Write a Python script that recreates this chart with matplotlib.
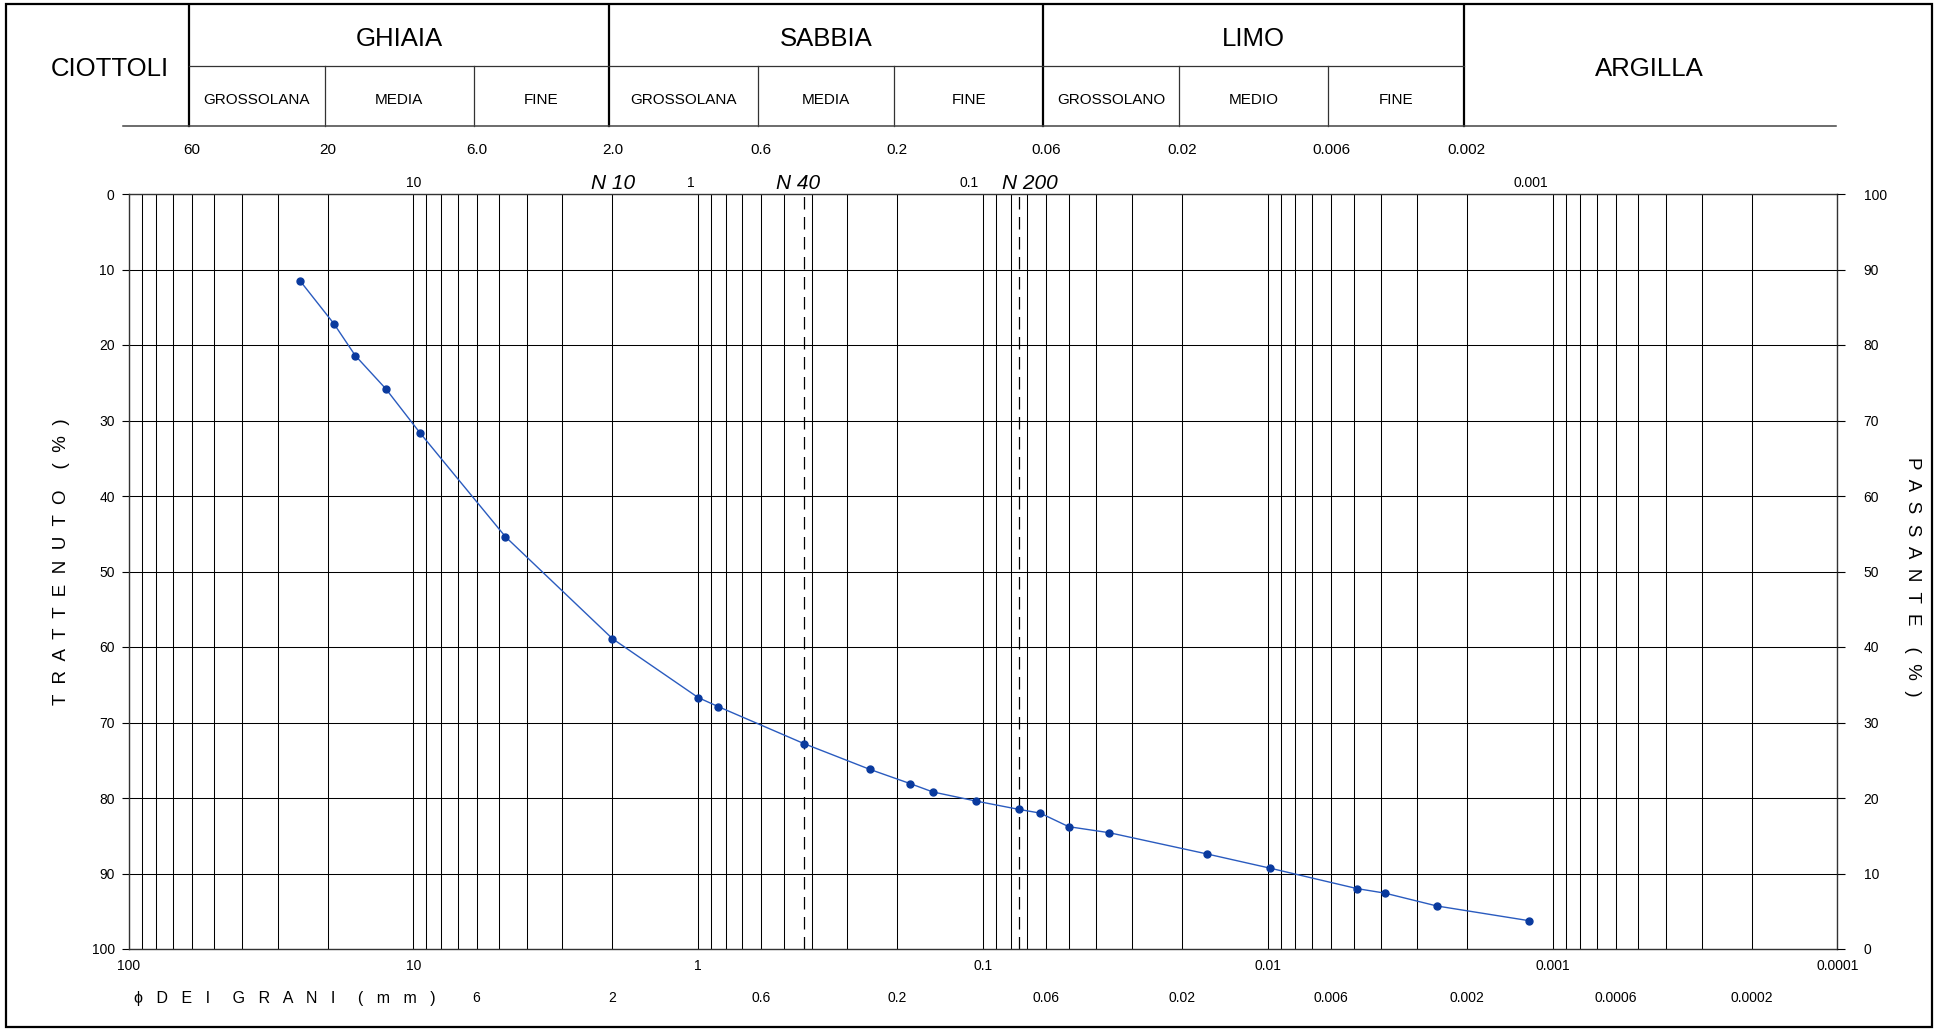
import matplotlib
matplotlib.use('Agg')
import matplotlib.pyplot as plt
import matplotlib.transforms as mtransforms
from matplotlib.patches import Rectangle
from matplotlib.ticker import LogLocator, NullFormatter, FixedLocator
import numpy as np

# ---------------- data ----------------
diam_mm = [25, 19, 16, 12.5, 9.5, 4.75, 2.0, 1.0, 0.85, 0.425, 0.25, 0.18, 0.15,
           0.106, 0.075, 0.063, 0.05, 0.036, 0.0164, 0.0098, 0.00486, 0.00388,
           0.00255, 0.00121]
trattenuto = [11.5, 17.2, 21.4, 25.8, 31.6, 45.4, 58.9, 66.7, 67.9, 72.8, 76.2,
              78.1, 79.2, 80.4, 81.5, 82.0, 83.8, 84.6, 87.4, 89.3, 92.0, 92.6,
              94.3, 96.25]

main_classes = ['GHIAIA', 'SABBIA', 'LIMO', 'ARGILLA']
main_bounds = [60, 2.0, 0.06, 0.002]
sub_classes = ['GROSSOLANA', 'MEDIA', 'FINE', 'GROSSOLANA', 'MEDIA', 'FINE',
               'GROSSOLANO', 'MEDIO', 'FINE']
sub_bounds = [60, 20, 6.0, 2.0, 0.6, 0.2, 0.06, 0.02, 0.006, 0.002]
limit_labels = ['60', '20', '6.0', '2.0', '0.6', '0.2', '0.06', '0.02', '0.006', '0.002']

x_major = [100, 10, 1, 0.1, 0.01, 0.001, 0.0001]
x_major_labels = ['100', '10', '1', '0.1', '0.01', '0.001', '0.0001']
x_second = [6, 2, 0.6, 0.2, 0.06, 0.02, 0.006, 0.002, 0.0006, 0.0002]
x_second_labels = ['6', '2', '0.6', '0.2', '0.06', '0.02', '0.006', '0.002', '0.0006', '0.0002']
top_row = [10, 1, 0.1, 0.001]
top_row_labels = ['10', '1', '0.1', '0.001']
sieves = ['N 10', 'N 40', 'N 200']
sieve_mm = [2.0, 0.425, 0.075]
y_ticks = list(range(0, 101, 10))

# ---------------- figure ----------------
plt.rcParams['font.family'] = ['Liberation Sans', 'DejaVu Sans']
W, H = 1937, 1030
fig = plt.figure(figsize=(W / 100, H / 100), dpi=100)


def fx(px):
    return px / W


def fy(py):
    return 1 - py / H


AX_L, AX_R, AX_T, AX_B = 128.6, 1837.4, 194, 949
ax = fig.add_axes([fx(AX_L), fy(AX_B), (AX_R - AX_L) / W, (AX_B - AX_T) / H])
ax.set_xscale('log')
ax.set_xlim(100, 1e-4)
ax.set_ylim(100, 0)

ax.xaxis.set_major_locator(FixedLocator(x_major))
ax.set_xticklabels(x_major_labels)
ax.xaxis.set_minor_locator(LogLocator(base=10, subs=np.arange(2, 10), numticks=20))
ax.xaxis.set_minor_formatter(NullFormatter())
ax.tick_params(axis='x', which='both', length=0, pad=7, labelsize=10)
ax.set_yticks(y_ticks)
ax.tick_params(axis='y', which='major', direction='out', length=5, width=0.8,
               pad=5, labelsize=10)
ax.grid(True, which='both', axis='x', color='black', lw=0.75)
ax.grid(True, which='major', axis='y', color='black', lw=0.75)
for sp in ax.spines.values():
    sp.set_color('#333333')
    sp.set_linewidth(1.0)

# sieve dashed lines
for s in sieve_mm[1:]:
    ax.axvline(s, color='black', lw=0.9, ls=(0, (10, 6)))

ax2 = ax.twinx()
ax2.set_ylim(0, 100)
ax2.set_yticks(y_ticks)
ax2.tick_params(axis='y', direction='out', length=5.8, width=0.8, pad=13, labelsize=10)
for sp in ax2.spines.values():
    sp.set_visible(False)

# curve
ax.plot(diam_mm, trattenuto, '-', color='#2a5bbf', lw=1.0, marker='o', ms=5,
        mfc='#0a3a9e', mec='#0a3a9e', zorder=5)

# labels above plot (blended transform)
blend = mtransforms.blended_transform_factory(ax.transData, ax.transAxes)
y_row1 = (AX_B - 150) / (AX_B - AX_T)
y_row2 = (AX_B - 183) / (AX_B - AX_T)
for v, t in zip(sub_bounds, limit_labels):
    ax.text(v, y_row1, t, transform=blend, ha='center', va='center', fontsize=11,
            clip_on=False)
for v, t in zip(top_row, top_row_labels):
    if t == '10':
        ax.text(v, y_row2, t, transform=blend, ha='center', va='center',
                fontsize=10, clip_on=False)
    else:
        tr = mtransforms.offset_copy(blend, fig=fig, x=-4, y=0, units='dots')
        ax.text(v, y_row2, t, transform=tr, ha='right', va='center',
                fontsize=10, clip_on=False)
sieve_offsets = [1, -6, 11]
for v, t, o in zip(sieve_mm, sieves, sieve_offsets):
    tr = mtransforms.offset_copy(blend, fig=fig, x=o, y=0, units='dots')
    ax.text(v, y_row2, t, transform=tr, ha='center', va='center', fontsize=15,
            style='italic', clip_on=False)

# second bottom row
y_bot2 = (AX_B - 998) / (AX_B - AX_T)
for v, t in zip(x_second, x_second_labels):
    ax.text(v, y_bot2, t, transform=blend, ha='center', va='center', fontsize=10,
            clip_on=False)

# ---------------- header ----------------
HL, HR, HT, HB = AX_L - 3, AX_R - 3, 5, 126
axh = fig.add_axes([fx(HL), fy(HB), (HR - HL) / W, (HB - HT) / H])
axh.set_xscale('log')
axh.set_xlim(100, 1e-4)
axh.set_ylim(0, 1)
axh.axis('off')
mid = (HB - 66) / (HB - HT)
for b in main_bounds:
    axh.plot([b, b], [0, 1], color='black', lw=1.6, clip_on=False)
for b in sub_bounds:
    if b not in main_bounds:
        axh.plot([b, b], [0, mid], color='#333333', lw=0.9, clip_on=False)
axh.plot([main_bounds[0], main_bounds[-1]], [mid, mid], color='#333333', lw=0.9,
         clip_on=False)
axh.plot([-2.6 / (HR - HL), 1 + 1.5 / (HR - HL)], [0, 0], transform=axh.transAxes,
         color='#444444', lw=1.1, clip_on=False)

right_end = 1e-4
main_edges = main_bounds + [right_end]
for i, name in enumerate(main_classes):
    a, b = main_edges[i], main_edges[i + 1]
    xc = np.sqrt(a * b)
    yc = (HB - 38.5) / (HB - HT) if name != 'ARGILLA' else (HB - 69) / (HB - HT)
    axh.text(xc, yc, name, ha='center', va='center', fontsize=18.5)
for i, name in enumerate(sub_classes):
    a, b = sub_bounds[i], sub_bounds[i + 1]
    axh.text(np.sqrt(a * b), (HB - 99.5) / (HB - HT), name, ha='center',
             va='center', fontsize=11)

fig.text(fx(110), fy(69.5), 'CIOTTOLI', ha='center', va='center', fontsize=18.5)

# axis titles
fig.text(fx(62), fy(562), 'T  R  A  T  T  E  N  U  T  O    (  %  )', rotation=90,
         ha='center', va='center', fontsize=13.5)
fig.text(fx(1913), fy(577), 'P  A  S  S  A  N  T  E    (  %  )', rotation=-90,
         ha='center', va='center', fontsize=13.5)
fig.text(fx(134), fy(998), '\u03d5   D   E   I     G   R   A   N   I     (   m   m   )',
         ha='left', va='center', fontsize=11.5)

# figure border
fig.add_artist(Rectangle((fx(6), fy(1027)), fx(1932) - fx(6), fy(4) - fy(1027),
                         transform=fig.transFigure, fill=False, lw=1.6,
                         ec='black'))

fig.savefig('out.png', dpi=100)
